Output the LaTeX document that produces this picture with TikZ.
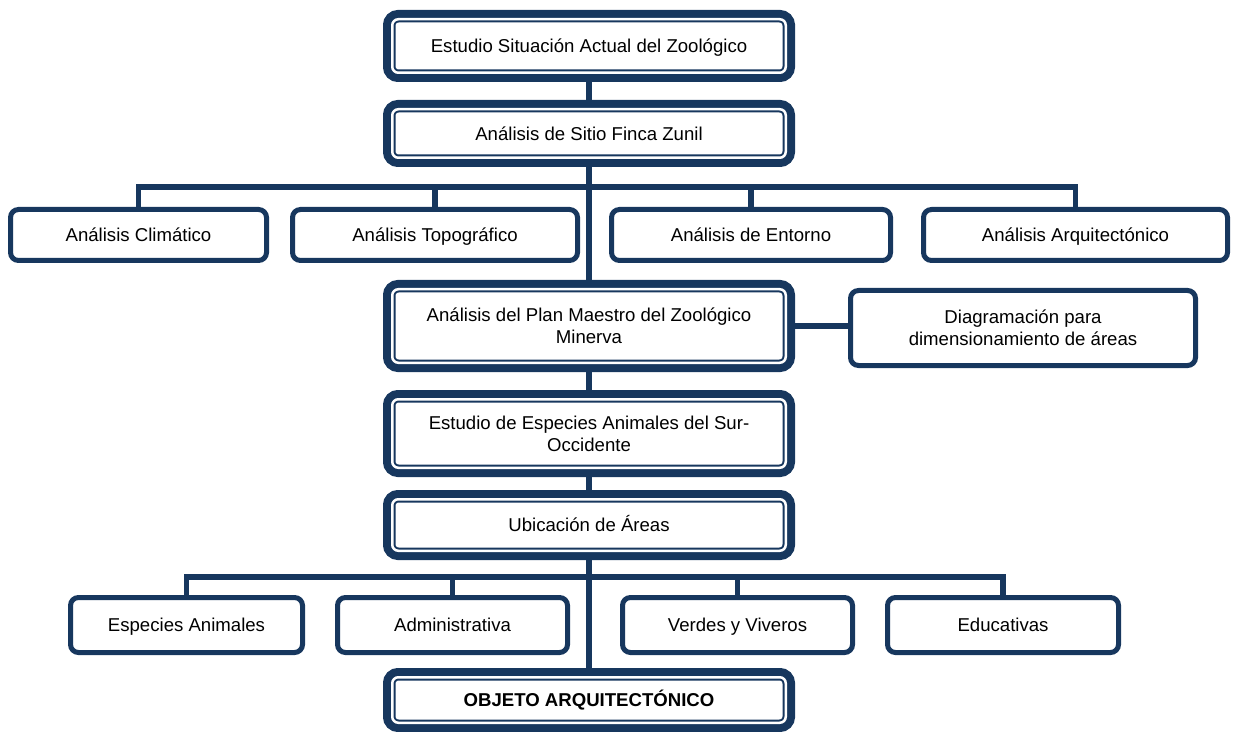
\documentclass[tikz,border=0pt]{standalone}
\usepackage{fontspec}
\setmainfont{Liberation Sans}
\definecolor{zoonavy}{HTML}{17375E}
\begin{document}
\begin{tikzpicture}[x=0.5pt,y=-0.5pt,
	font=\fontsize{9.3}{11}\selectfont,
	mainbox/.style={rounded corners=3pt, fill=white, draw=zoonavy, line width=3.25pt,
		preaction={draw=zoonavy, line width=9.25pt},
		postaction={draw=white, fill=none, line width=1.25pt},
		outer sep=4.625pt, minimum width=196.75pt, align=center, inner sep=2pt,
		text height=8pt, text depth=1.3pt},
	subbox/.style={rounded corners=4pt, fill=white, draw=zoonavy, line width=2.5pt,
		outer sep=1.25pt, align=center, inner sep=2pt, text height=8pt, text depth=1.3pt},
	twoline/.style={text height={}, text depth={}},
	link/.style={draw=zoonavy, line width=2.6pt}]
	\useasboundingbox (0,0) rectangle (1235,732);
	\node[mainbox, minimum height=26.75pt] (est) at (589,46) {Estudio Situación Actual del Zoológico};
	\node[mainbox, minimum height=24.25pt] (sitio) at (589,133.5) {Análisis de Sitio Finca Zunil};
	\node[mainbox, twoline, minimum height=36.75pt] (plan) at (589,326) {Análisis del Plan Maestro del Zoológico\\Minerva};
	\node[mainbox, twoline, minimum height=34.25pt] (esp) at (589,433.5) {Estudio de Especies Animales del Sur-\\Occidente};
	\node[mainbox, minimum height=25.75pt] (ubic) at (589,525) {Ubicación de Áreas};
	\node[mainbox, minimum height=22.75pt, font=\fontsize{9.3}{11}\selectfont\bfseries] (obj) at (589,700) {OBJETO ARQUITECTÓNICO};

	\node[subbox, minimum width=128pt, minimum height=25.5pt] (clim) at (138.5,235) {Análisis Climático};
	\node[subbox, minimum width=142.5pt, minimum height=25.5pt] (topo) at (435,235) {Análisis Topográfico};
	\node[subbox, minimum width=139.5pt, minimum height=25.5pt] (ento) at (751,235) {Análisis de Entorno};
	\node[subbox, minimum width=152pt, minimum height=25.5pt] (arq) at (1075.5,235) {Análisis Arquitectónico};
	\node[subbox, twoline, minimum width=172.5pt, minimum height=37.5pt] (diag) at (1023,328) {Diagramación para\\dimensionamiento de áreas};

	\node[subbox, minimum width=116pt, minimum height=27.5pt] (espa) at (186.5,625) {Especies Animales};
	\node[subbox, minimum width=115pt, minimum height=27.5pt] (admin) at (452.5,625) {Administrativa};
	\node[subbox, minimum width=115pt, minimum height=27.5pt] (verd) at (737.5,625) {Verdes y Viveros};
	\node[subbox, minimum width=115.5pt, minimum height=27.5pt] (educ) at (1003,625) {Educativas};

	\coordinate (bus1) at (0,187);
	\coordinate (bus2) at (0,577);
	\draw[link] (est.south) -- (sitio.north);
	\draw[link] (sitio.south) -- (plan.north);
	\draw[link] (clim.north) -- (clim.north |- bus1) -- (arq.north |- bus1) -- (arq.north);
	\foreach \n in {topo,ento} \draw[link] (\n.north |- bus1) -- (\n.north);
	\draw[link] (plan.east) -- (plan.east -| diag.west);
	\draw[link] (plan.south) -- (esp.north);
	\draw[link] (esp.south) -- (ubic.north);
	\draw[link] (ubic.south) -- (obj.north);
	\draw[link] (espa.north) -- (espa.north |- bus2) -- (educ.north |- bus2) -- (educ.north);
	\foreach \n in {admin,verd} \draw[link] (\n.north |- bus2) -- (\n.north);
\end{tikzpicture}
\end{document}
